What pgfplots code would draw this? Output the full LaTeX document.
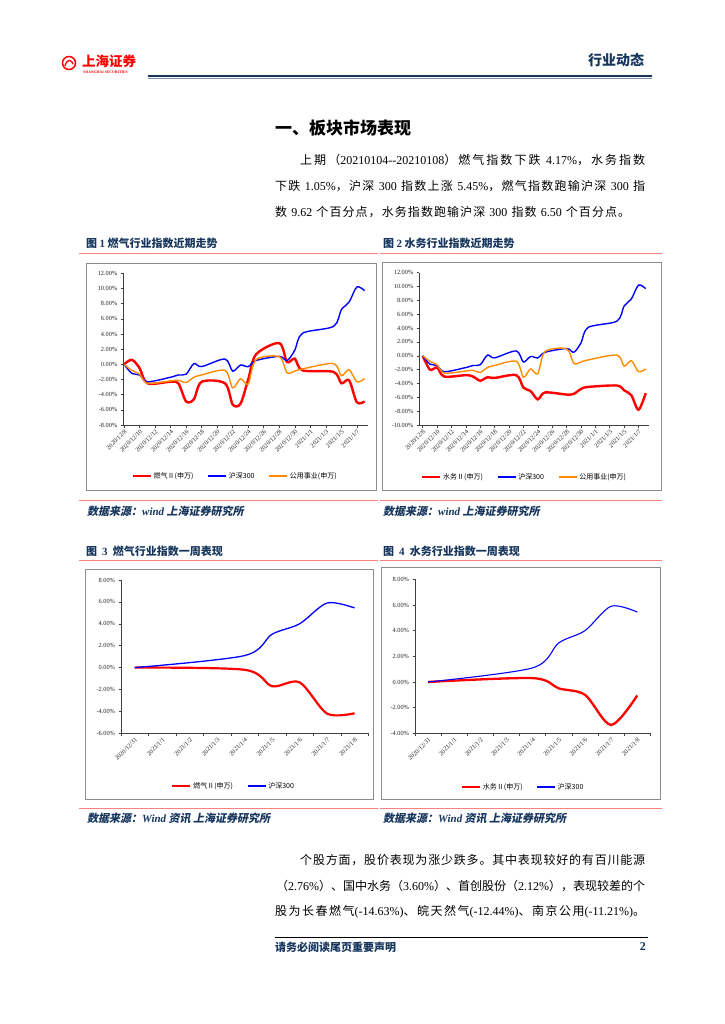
\documentclass[border=0pt]{standalone}
\usepackage{pgfplots}
\pgfplotsset{compat=1.18}
\usepackage{graphicx}
\usepackage{fontspec}
\setmainfont{Noto Sans CJK SC}
\newfontfamily\lat{Liberation Serif}
\newfontfamily\cjksl{Noto Sans CJK SC}[FakeSlant=0.2]
% stretchable glue between CJK characters (for justified lines)
\XeTeXinterchartokenstate=1
\newXeTeXintercharclass\cjkcls
\newcount\cc
\cc="3000 \loop \XeTeXcharclass\cc=\cjkcls \advance\cc 1 \ifnum\cc<"3040 \repeat
\cc="4E00 \loop \XeTeXcharclass\cc=\cjkcls \advance\cc 1 \ifnum\cc<"A000 \repeat
\cc="FF00 \loop \XeTeXcharclass\cc=\cjkcls \advance\cc 1 \ifnum\cc<"FF5F \repeat
\XeTeXinterchartoks\cjkcls\cjkcls={\hskip0pt plus 1pt\relax}
\definecolor{navy}{RGB}{23,54,93}
\definecolor{salmon}{RGB}{255,128,128}
\definecolor{ored}{RGB}{255,0,0}
\definecolor{oblue}{RGB}{0,0,255}
\definecolor{oorange}{RGB}{255,140,0}
\newsavebox\fitbox
\newcommand\fitline[2]{\sbox\fitbox{#2}\ifdim\wd\fitbox>#1\relax\resizebox{#1}{\height}{\usebox\fitbox}\else\makebox[#1][s]{#2}\fi}
\newcommand\txt[3]{\node[anchor=west,inner sep=0pt] at (#1pt,-#2pt) {#3};}

\pgfplotsset{
  rep/.style={
    scale only axis, anchor=north west,
    axis lines=left,
    axis line style={black!75, line width=0.6pt, -},
    tick style={black!75, line width=0.5pt},
    tick align=outside, major tick length=2.5pt,
    tick label style={font=\lat\fontsize{6.3}{7}\selectfont, text=black!85},
    yticklabel={\pgfmathprintnumber[fixed,fixed zerofill,precision=2,assume math mode=true]{\tick}\%},
    x tick label style={rotate=45, anchor=north east, inner sep=1pt},
    legend style={draw=none, fill=none, font=\fontsize{7}{8}\selectfont, legend columns=-1, anchor=center,
      /tikz/every even column/.append style={column sep=12pt}},
    legend image code/.code={\draw[#1] (0pt,0pt) -- (18pt,0pt);},
    every axis plot/.append style={smooth, tension=0.5, no markers},
  }
}

\begin{document}
\begin{tikzpicture}
\fill[white] (0pt,0pt) rectangle (724pt,-1024pt);
\useasboundingbox (0pt,0pt) rectangle (724pt,-1024pt);

% ---------- header ----------
\draw[ored, line width=1.5pt] (69pt,-63pt) circle (6.5pt);
\draw[ored, line width=1.3pt] (65pt,-66pt) .. controls (67pt,-58pt) and (72pt,-60pt) .. (73pt,-64pt);
\node[anchor=west, inner sep=0pt, text=ored, font=\bfseries\fontsize{13.5}{14}\selectfont] at (82pt,-61pt) {上海证券};
\node[anchor=west, inner sep=0pt, text=ored, font=\lat\bfseries\fontsize{3.8}{4}\selectfont] at (83pt,-72.5pt) {SHANGHAI SECURITIES};
\node[anchor=center, inner sep=0pt, text=navy, font=\bfseries\fontsize{14}{15}\selectfont] at (616pt,-60pt) {行业动态};
\draw[navy, line width=2pt] (148pt,-76.5pt) -- (652pt,-76.5pt);
\draw[navy!55, line width=0.8pt] (148pt,-78.3pt) -- (652pt,-78.3pt);

% ---------- title + paragraph 1 ----------
\node[anchor=west, inner sep=0pt, font=\bfseries\fontsize{17}{18}\selectfont] at (275pt,-128pt) {一、板块市场表现};
\txt{300}{160}{\fontsize{12}{14}\selectfont\fitline{345pt}{上期（{\lat 20210104-{}-20210108}）燃气指数下跌 {\lat 4.17\%}，水务指数}}
\txt{275}{186}{\fontsize{12}{14}\selectfont\fitline{370pt}{下跌 {\lat 1.05\%}，沪深 {\lat 300} 指数上涨 {\lat 5.45\%}，燃气指数跑输沪深 {\lat 300} 指}}
\txt{275}{212}{\fontsize{12}{14}\selectfont\fitline{355pt}{数 {\lat 9.62} 个百分点，水务指数跑输沪深 {\lat 300} 指数 {\lat 6.50} 个百分点。}}

% ---------- captions / rules ----------
\node[anchor=west, inner sep=0pt, text=navy, font=\bfseries\fontsize{11}{12}\selectfont] at (86pt,-243pt) {图 {\lat 1} 燃气行业指数近期走势};
\node[anchor=west, inner sep=0pt, text=navy, font=\bfseries\fontsize{11}{12}\selectfont] at (383pt,-243pt) {图 {\lat 2} 水务行业指数近期走势};
\foreach \yy in {253,500,560,808} {
  \draw[salmon, line width=1pt] (79pt,-\yy pt) -- (378pt,-\yy pt);
  \draw[salmon, line width=1pt] (380pt,-\yy pt) -- (662pt,-\yy pt);
}
\draw[black!45, line width=1pt] (86pt,-263pt) rectangle (376pt,-490pt);
\draw[black!45, line width=1pt] (382pt,-262pt) rectangle (661pt,-490pt);
\draw[black!45, line width=1pt] (85pt,-569pt) rectangle (373pt,-799pt);
\draw[black!45, line width=1pt] (381pt,-567pt) rectangle (660pt,-799pt);

\node[anchor=west, inner sep=0pt, text=navy, font=\fontsize{11}{12}\selectfont] at (87pt,-511pt) {{\cjksl\bfseries 数据来源：}{\lat\bfseries\itshape wind} {\cjksl\bfseries 上海证券研究所}};
\node[anchor=west, inner sep=0pt, text=navy, font=\fontsize{11}{12}\selectfont] at (383pt,-511pt) {{\cjksl\bfseries 数据来源：}{\lat\bfseries\itshape wind} {\cjksl\bfseries 上海证券研究所}};
\node[anchor=west, inner sep=0pt, text=navy, font=\bfseries\fontsize{11}{12}\selectfont] at (86pt,-551pt) {图\ \ {\lat 3}\ \ 燃气行业指数一周表现};
\node[anchor=west, inner sep=0pt, text=navy, font=\bfseries\fontsize{11}{12}\selectfont] at (383pt,-551pt) {图\ \ {\lat 4}\ \ 水务行业指数一周表现};
\node[anchor=west, inner sep=0pt, text=navy, font=\fontsize{11}{12}\selectfont] at (87pt,-818pt) {{\cjksl\bfseries 数据来源：}{\lat\bfseries\itshape Wind} {\cjksl\bfseries 资讯 上海证券研究所}};
\node[anchor=west, inner sep=0pt, text=navy, font=\fontsize{11}{12}\selectfont] at (383pt,-818pt) {{\cjksl\bfseries 数据来源：}{\lat\bfseries\itshape Wind} {\cjksl\bfseries 资讯 上海证券研究所}};

% ---------- paragraph 2 ----------
\txt{300}{860}{\fontsize{12}{14}\selectfont\fitline{345pt}{个股方面，股价表现为涨少跌多。其中表现较好的有百川能源}}
\txt{276}{886}{\fontsize{12}{14}\selectfont\fitline{369pt}{（{\lat 2.76\%}）、国中水务（{\lat 3.60\%}）、首创股份（{\lat 2.12\%}），表现较差的个}}
\txt{275}{912}{\fontsize{12}{14}\selectfont\fitline{370pt}{股为长春燃气{\lat (-14.63\%)}、皖天然气{\lat (-12.44\%)}、南京公用{\lat (-11.21\%)}。}}

% ---------- footer ----------
\draw[black, line width=0.7pt] (275pt,-937pt) -- (648pt,-937pt);
\node[anchor=west, inner sep=0pt, text=navy, font=\bfseries\fontsize{11}{12}\selectfont] at (275pt,-947pt) {请务必阅读尾页重要声明};
\node[anchor=east, inner sep=0pt, text=navy, font=\lat\bfseries\fontsize{12}{13}\selectfont] at (646pt,-947pt) {2};

% ---------- chart 1 ----------
\begin{axis}[rep, at={(123.3pt,-273.3pt)}, width=244.4pt, height=151.7pt,
  xmin=-0.1, xmax=31.4, ymin=-8, ymax=12, ytick={-8,-6,...,12},
  xtick={0,2,...,30},
  xticklabels={2020/12/8,2020/12/10,2020/12/12,2020/12/14,2020/12/16,2020/12/18,2020/12/20,2020/12/22,2020/12/24,2020/12/26,2020/12/28,2020/12/30,2021/1/1,2021/1/3,2021/1/5,2021/1/7},
  legend style={at={(0.457,-0.336)}}]
\addplot[ored, line width=2.4pt] coordinates {(0,0) (1,0.6) (2,-0.5) (3,-2.5) (6,-2.3) (7,-2.5) (8,-4.9) (9,-4.6) (10,-2.3) (13,-2.5) (14,-5.3) (15,-5.2) (16,-2.0) (17,1.3) (20,2.8) (21,0.3) (22,0.75) (23,-0.8) (27,-1.0) (28,-2.5) (29,-2.1) (30,-5.0) (31,-4.9)};
\addlegendentry{燃气Ⅱ(申万)}
\addplot[oblue, line width=1.4pt] coordinates {(0,0) (1,-1.2) (2,-1.4) (3,-2.3) (6,-1.7) (7,-1.4) (8,-1.3) (9,0.1) (10,-0.3) (13,0.7) (14,-0.9) (15,-0.1) (16,-0.3) (17,0.5) (20,1.05) (21,0.5) (22,1.85) (23,4.1) (27,5.0) (28,7.2) (29,8.2) (30,10.2) (31,9.7)};
\addlegendentry{沪深300}
\addplot[oorange, line width=1.4pt] coordinates {(0,0) (1,-0.8) (2,-1.3) (3,-2.5) (6,-2.2) (7,-2.1) (8,-2.4) (9,-1.7) (10,-1.4) (13,-0.8) (14,-3.1) (15,-1.9) (16,-2.6) (17,0.6) (20,1.0) (21,-1.1) (22,-0.9) (23,-0.6) (27,0.1) (28,-1.5) (29,-0.7) (30,-2.3) (31,-1.9)};
\addlegendentry{公用事业(申万)}
\end{axis}

% ---------- chart 2 ----------
\begin{axis}[rep, at={(419.3pt,-272.7pt)}, width=230pt, height=152.3pt,
  xmin=-0.47, xmax=31.5, ymin=-10, ymax=12, ytick={-10,-8,...,12},
  xtick={0,2,...,30},
  xticklabels={2020/12/8,2020/12/10,2020/12/12,2020/12/14,2020/12/16,2020/12/18,2020/12/20,2020/12/22,2020/12/24,2020/12/26,2020/12/28,2020/12/30,2021/1/1,2021/1/3,2021/1/5,2021/1/7},
  legend style={at={(0.457,-0.341)}}]
\addplot[ored, line width=2.4pt] coordinates {(0,0) (1,-2.0) (2,-1.7) (3,-3.0) (6,-2.8) (7,-3.0) (8,-3.6) (9,-3.1) (10,-3.2) (13,-2.8) (14,-4.6) (15,-5.1) (16,-6.3) (17,-5.3) (20,-5.6) (21,-5.5) (22,-4.8) (23,-4.5) (27,-4.3) (28,-5.0) (29,-5.7) (30,-7.8) (31,-5.4)};
\addlegendentry{水务Ⅱ(申万)}
\addplot[oblue, line width=1.4pt] coordinates {(0,0) (1,-1.2) (2,-1.4) (3,-2.3) (6,-1.7) (7,-1.4) (8,-1.3) (9,0.1) (10,-0.3) (13,0.7) (14,-0.9) (15,-0.1) (16,-0.3) (17,0.5) (20,1.05) (21,0.5) (22,1.85) (23,4.1) (27,5.0) (28,7.2) (29,8.2) (30,10.2) (31,9.7)};
\addlegendentry{沪深300}
\addplot[oorange, line width=1.4pt] coordinates {(0,0) (1,-0.8) (2,-1.3) (3,-2.5) (6,-2.2) (7,-2.1) (8,-2.4) (9,-1.7) (10,-1.4) (13,-0.8) (14,-3.1) (15,-1.9) (16,-2.6) (17,0.6) (20,1.0) (21,-1.1) (22,-0.9) (23,-0.6) (27,0.1) (28,-1.5) (29,-0.7) (30,-2.3) (31,-1.9)};
\addlegendentry{公用事业(申万)}
\end{axis}

% ---------- chart 3 ----------
\begin{axis}[rep, at={(121pt,-580pt)}, width=247.3pt, height=153.3pt,
  xmin=-0.5, xmax=8.5, ymin=-6, ymax=8, ytick={-6,-4,...,8},
  xtick={-0.5,0.5,...,8.5}, x tick label as interval,
  xticklabels={2020/12/31,2021/1/1,2021/1/2,2021/1/3,2021/1/4,2021/1/5,2021/1/6,2021/1/7,2021/1/8},
  legend style={at={(0.455,-0.344)}}]
\addplot[ored, line width=2.2pt] coordinates {(0,0) (4,-0.2) (5,-1.7) (6,-1.35) (7,-4.2) (8,-4.17)};
\addlegendentry{燃气Ⅱ(申万)}
\addplot[oblue, line width=1.3pt] coordinates {(0,0) (4,1.1) (5,3.05) (6,4.0) (7,5.9) (8,5.45)};
\addlegendentry{沪深300}
\end{axis}

% ---------- chart 4 ----------
\begin{axis}[rep, at={(415pt,-579.3pt)}, width=235.3pt, height=154pt,
  xmin=-0.5, xmax=8.5, ymin=-4, ymax=8, ytick={-4,-2,...,8},
  xtick={-0.5,0.5,...,8.5}, x tick label as interval,
  xticklabels={2020/12/31,2021/1/1,2021/1/2,2021/1/3,2021/1/4,2021/1/5,2021/1/6,2021/1/7,2021/1/8},
  legend style={at={(0.459,-0.349)}}]
\addplot[ored, line width=2.3pt] coordinates {(0,0) (4,0.3) (5,-0.5) (6,-1.0) (7,-3.35) (8,-1.05)};
\addlegendentry{水务Ⅱ(申万)}
\addplot[oblue, line width=1.1pt] coordinates {(0,0) (4,1.1) (5,3.05) (6,4.0) (7,5.9) (8,5.45)};
\addlegendentry{沪深300}
\end{axis}
\end{tikzpicture}
\end{document}
